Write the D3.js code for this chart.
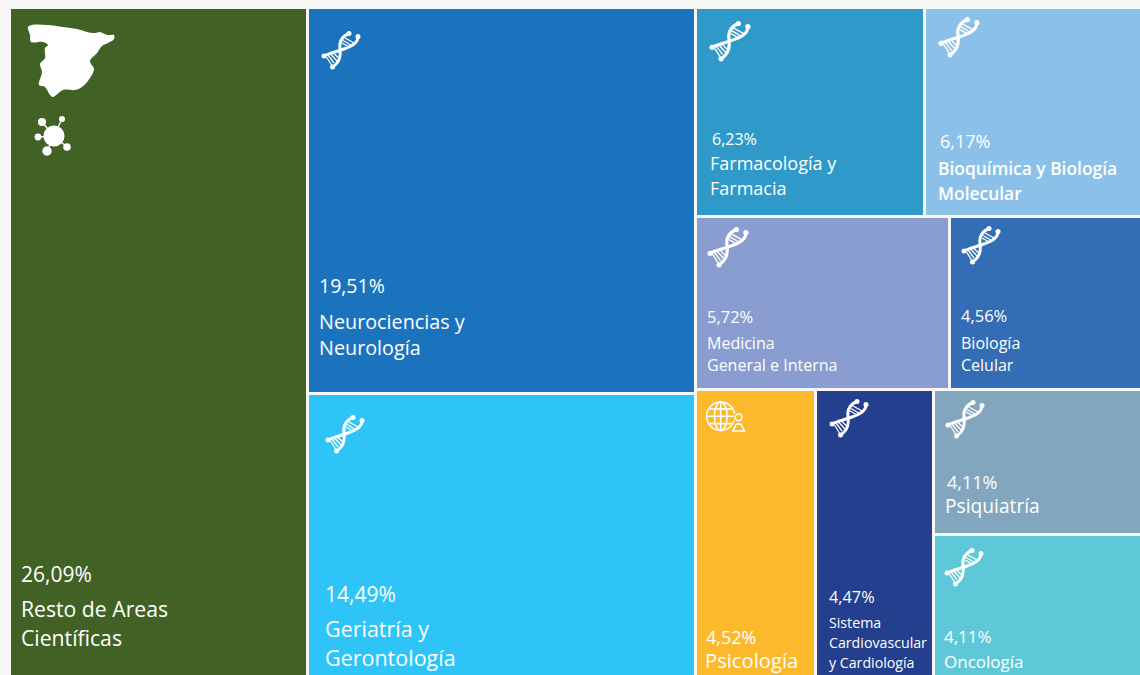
<!DOCTYPE html>
<html lang="es">
<head>
<meta charset="utf-8">
<title>Áreas científicas</title>
<script src="https://cdn.jsdelivr.net/npm/d3@7"></script>
<style>
    html, body { margin: 0; padding: 0; background: #f7f7f7; overflow: hidden; }
    svg { display: block; }
    text { font-family: "Open Sans", "Noto Sans", sans-serif; fill: #fff; }
</style>
</head>
<body>
<div id="content"></div>
<script>
// values
const areas = ['Resto de Areas Científicas', 'Neurociencias y Neurología', 'Geriatría y Gerontología',
    'Farmacología y Farmacia', 'Bioquímica y Biología Molecular', 'Medicina General e Interna',
    'Biología Celular', 'Psicología', 'Sistema Cardiovascular y Cardiología', 'Psiquiatría', 'Oncología'];
const shares = [26.09, 19.51, 14.49, 6.23, 6.17, 5.72, 4.56, 4.52, 4.47, 4.11, 4.11];
const colors = ['#426225', '#1c73bd', '#2fc4f7', '#2f9aca', '#8bc1e9', '#8a9dd0',
    '#326db5', '#fdb92c', '#233f8e', '#83a6bf', '#5ec8d8'];
const labelLines = [
    ['Resto de Areas', 'Científicas'], ['Neurociencias y', 'Neurología'], ['Geriatría y', 'Gerontología'],
    ['Farmacología y', 'Farmacia'], ['Bioquímica y Biología', 'Molecular'], ['Medicina', 'General e Interna'],
    ['Biología', 'Celular'], ['Psicología'], ['Sistema', 'Cardiovascular', 'y Cardiología'], ['Psiquiatría'], ['Oncología']
];
// how the cells nest: columns, then rows, then cells
const nesting = [0, [1, 2], [[3, 4], [5, 6], [7, 8, [9, 10]]]];

// label placement per cell, offset from the cell's top left corner
const labelStyle = [
    { pct: [10, 573, 21], name: [10, 608, 21.2], lead: 29 },
    { pct: [10, 284, 19.5], name: [10, 320, 19.8], lead: 26 },
    { pct: [16, 207, 21], name: [16, 242, 21.5], lead: 29 },
    { pct: [15, 136, 16], name: [13, 161, 18], lead: 25 },
    { pct: [14, 139, 18], name: [12, 166, 17.4], lead: 25, bold: true },
    { pct: [10, 105, 16.5], name: [10, 131, 16], lead: 22 },
    { pct: [10, 104, 16.5], name: [10, 131, 16], lead: 22 },
    { pct: [9, 253, 18], name: [8, 277, 20.2], lead: 0 },
    { pct: [12, 212, 16.3], name: [12, 237, 14.2], lead: 20 },
    { pct: [12, 98, 18], name: [10, 122, 19.2], lead: 0 },
    { pct: [9, 107, 17], name: [9, 132, 17], lead: 0 }
];
// icon per cell: [dx, dy, size]
const iconPlace = [null, [13, 23, 38], [17, 21, 38], [13, 13, 40], [13, 9, 40], [11, 10, 40],
    [11, 9, 38], [9, 10, 40], [13, 9, 38], [11, 10, 38], [10, 13, 38]];

const spainOutline = [[17, 18], [21, 16], [36, 16], [52, 18], [66, 20], [76, 23], [84, 24], [89, 23],
    [96, 26], [103, 26], [103, 30], [97, 34], [91, 37], [86, 44], [79, 52], [83, 60], [79, 69],
    [71, 78], [64, 81], [52, 81], [42, 88], [39, 86], [34, 78], [28, 76], [31, 63], [29, 55],
    [34, 49], [34, 39], [37, 36], [32, 33], [20, 33], [19, 26]];

const width = 1140, height = 675;

const svg = d3.select('#content').append('svg')
    .attr('width', width)
    .attr('height', height);

const toNode = n => Array.isArray(n) ? { children: n.map(toNode) } : { index: n, value: shares[n] };

const root = d3.hierarchy(toNode(nesting)).sum(d => d.value || 0);

d3.treemap()
    .tile(d3.treemapSliceDice)
    .size([1139, 669])
    .paddingInner(3)
    .round(true)(root);

const chart = svg.append('g').attr('transform', 'translate(11,9)');

const cells = chart.selectAll('g.cell')
    .data(root.leaves())
    .join('g')
    .classed('cell', true)
    .attr('transform', d => `translate(${d.x0},${d.y0})`);

cells.append('rect')
    .attr('width', d => d.x1 - d.x0)
    .attr('height', d => d.y1 - d.y0)
    .attr('fill', d => colors[d.data.index]);

cells.append('text')
    .attr('x', d => labelStyle[d.data.index].pct[0])
    .attr('y', d => labelStyle[d.data.index].pct[1])
    .attr('font-size', d => labelStyle[d.data.index].pct[2])
    .text(d => d3.format('.2f')(shares[d.data.index]).replace('.', ',') + '%');

cells.each(function(d) {
    const st = labelStyle[d.data.index];
    d3.select(this).append('text')
        .attr('font-size', st.name[2])
        .attr('font-weight', st.bold ? 600 : 400)
        .selectAll('tspan')
        .data(labelLines[d.data.index])
        .join('tspan')
        .attr('x', st.name[0])
        .attr('y', (l, i) => st.name[1] + i * st.lead)
        .text(l => l);
});

// --- icons ---
function dna(g) {
    // drawn on a 38 x 38 box
    const strands = ['M27 1.5C20 4 17 10 18 16C19 24 18 30 10.5 35', 'M36 4.5C36 11 30 14 22 17C14 20 8 21 2 24'];
    const rungs = [[23, 6, 32, 11], [21, 8.5, 29.5, 13.5], [20, 11, 27, 15],
        [6, 23, 12, 31], [9, 22.5, 15, 29], [12, 21.5, 17.5, 27], [4.5, 25, 9.5, 33]];
    g.selectAll('path').data(strands).join('path')
        .attr('d', d => d)
        .attr('fill', 'none').attr('stroke', '#fff').attr('stroke-width', 3);
    g.selectAll('line').data(rungs).join('line')
        .attr('x1', d => d[0]).attr('y1', d => d[1])
        .attr('x2', d => d[2]).attr('y2', d => d[3])
        .attr('stroke', '#fff').attr('stroke-width', 1.3);
    g.selectAll('circle').data([[27, 1.5], [36, 4.5], [2, 24], [10.5, 35]]).join('circle')
        .attr('cx', d => d[0]).attr('cy', d => d[1]).attr('r', 2.5).attr('fill', '#fff');
}

function globePerson(g) {
    // drawn on a 38 x 38 box, globe with a small person on the lower right
    const stroke = s => s.attr('fill', 'none').attr('stroke', '#fff').attr('stroke-width', 1.5);
    g.append('circle').attr('cx', 14).attr('cy', 14.5).attr('r', 13.5).call(stroke);
    g.append('ellipse').attr('cx', 14).attr('cy', 14.5).attr('rx', 6).attr('ry', 13.5).call(stroke);
    g.append('path').attr('d', 'M14 1V28M.5 14.5H27.5M3 7.5H25M3 21.5H25').call(stroke);
    g.append('path').attr('d', 'M23 30L27 19H34L39 30Z').attr('fill', colors[7]);
    g.append('circle').attr('cx', 31).attr('cy', 15.5).attr('r', 5).attr('fill', colors[7]);
    g.append('circle').attr('cx', 31).attr('cy', 15.5).attr('r', 3.2).call(stroke);
    g.append('path').attr('d', 'M25.5 28.5L28.5 22.5Q31 21 33.5 22.5L36.5 28.5Z').call(stroke);
}

cells.filter(d => iconPlace[d.data.index])
    .append('g')
    .attr('transform', d => {
        const p = iconPlace[d.data.index];
        return `translate(${p[0]},${p[1]}) scale(${p[2] / 38})`;
    })
    .each(function(d) {
        if (areas[d.data.index] === 'Psicología') globePerson(d3.select(this));
        else dna(d3.select(this));
    });

// Spain silhouette and the virus mark of the first cell
const first = chart.append('g');

first.append('path')
    .attr('d', d3.line().curve(d3.curveCatmullRomClosed)(spainOutline))
    .attr('fill', '#fff');

const virusNodes = [[31, 113, 4], [51, 110, 3], [27, 128, 3.4], [56, 138, 3.8], [36, 142, 4.7]];
first.selectAll('line').data(virusNodes).join('line')
    .attr('x1', 43).attr('y1', 127)
    .attr('x2', d => d[0]).attr('y2', d => d[1])
    .attr('stroke', '#fff').attr('stroke-width', 1.3);
first.selectAll('circle').data(virusNodes).join('circle')
    .attr('cx', d => d[0]).attr('cy', d => d[1]).attr('r', d => d[2]).attr('fill', '#fff');
first.append('circle').attr('cx', 43).attr('cy', 127).attr('r', 10.5).attr('fill', '#fff');
</script>
</body>
</html>
